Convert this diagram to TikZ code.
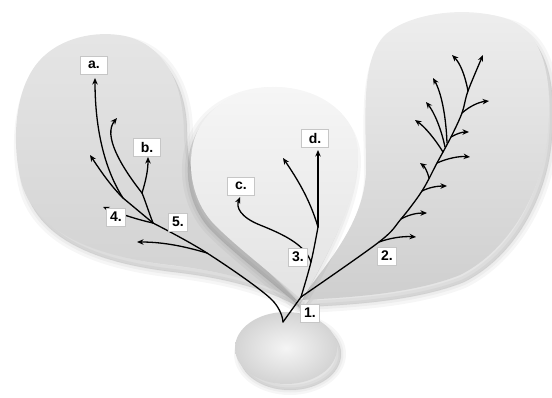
\documentclass[tikz,border=0pt]{standalone}
\usepackage{fontspec}
\setmainfont{Liberation Sans}
\usetikzlibrary{arrows.meta}
\begin{document}
\begin{tikzpicture}[x=1pt,y=-1pt,
  arr/.style={line width=1.3pt, line cap=round, -{Stealth[length=6.5pt,width=5.5pt]}},
  ln/.style={line width=1.3pt, line cap=round},
  lab/.style={fill=white, draw=gray!45, line width=0.5pt, font=\bfseries\fontsize{14}{14}\selectfont, inner sep=0pt, minimum height=18pt, minimum width=19pt},
  labw/.style={lab, minimum width=27pt},
  shad/.style={black, opacity=0.035, line join=round},
]
\useasboundingbox (0,0) rectangle (552,397);
\def\pathL{(298,302) .. controls (270,285) and (230,272) .. (170,265) .. controls (110,258) and (40,240) .. (22,185) .. controls (12,150) and (12,90) .. (40,60) .. controls (60,38) and (95,30) .. (125,36) .. controls (165,45) and (183,85) .. (183,125) .. controls (183,165) and (195,190) .. (215,215) .. controls (240,250) and (280,280) .. (298,302) -- cycle}
\def\pathM{(302,300) .. controls (280,280) and (240,250) .. (215,225) .. controls (195,205) and (188,175) .. (192,150) .. controls (198,110) and (235,88) .. (272,87) .. controls (320,86) and (358,115) .. (358,155) .. controls (358,200) and (325,260) .. (302,300) -- cycle}
\def\pathR{(300,300) .. controls (330,260) and (365,220) .. (366,170) .. controls (366,120) and (360,60) .. (385,35) .. controls (410,12) and (470,5) .. (510,20) .. controls (545,35) and (552,80) .. (548,130) .. controls (544,190) and (510,250) .. (460,275) .. controls (410,295) and (340,298) .. (300,300) -- cycle}
\def\pathE{(286,348) ellipse [x radius=51, y radius=36]}
% bottom ellipse
\foreach \w in {10,5,1} \filldraw[shad, line width=\w pt, shift={(4,6)}] \pathE;
\shade[inner color=gray!8, outer color=gray!34] \pathE;
% left blob
\foreach \w in {12,6,1} \filldraw[shad, line width=\w pt, shift={(4,7)}] \pathL;
\shade[top color=gray!20, bottom color=gray!36] \pathL;
% right blob
\foreach \w in {12,6,1} \filldraw[shad, line width=\w pt, shift={(4,7)}] \pathR;
\shade[top color=gray!13, bottom color=gray!38] \pathR;
% middle blob
\foreach \w in {12,6,1} \filldraw[shad, line width=\w pt, shift={(-3,6)}] \pathM;
\shade[top color=gray!7, bottom color=gray!22] \pathM;

% key points
\coordinate (v) at (283,322);
\coordinate (n1) at (301,297);
% left system
\coordinate (m1) at (270,298);
\coordinate (j6) at (207,253);
\coordinate (j5) at (153,223);
\coordinate (j4) at (123,198);
\coordinate (jb) at (142,193);
\coordinate (t6) at (137,242);
\coordinate (t4) at (103,207);
\coordinate (tl) at (90,155);
\coordinate (ta) at (95,78);
\coordinate (tb) at (148,157);
\coordinate (tu) at (117,118);
% middle system
\coordinate (jc) at (311,262);
\coordinate (jd) at (318,227);
\coordinate (td) at (318,150);
\coordinate (tm) at (283,158);
\coordinate (tc) at (240,197);
% right system
\coordinate (s1) at (379,242);
\coordinate (s2) at (401,219);
\coordinate (s3) at (422,191);
\coordinate (s4) at (429,178);
\coordinate (s5) at (437,163);
\coordinate (s6a) at (443,152);
\coordinate (s6b) at (445,147);
\coordinate (s6c) at (447,143);
\coordinate (s7) at (451,137);
\coordinate (s8) at (462,113);
\coordinate (s9) at (468,91);
\coordinate (st) at (483,55);

% V
\draw[ln] (n1) -- (v);
% left trunk
\draw[ln] plot[smooth, tension=0.6] coordinates {(v) (m1) (j6) (j5)};
\draw[arr] (j6) .. controls (180,245) and (160,242) .. (t6);
\draw[arr] (j5) .. controls (135,219) and (118,213) .. (t4);
\draw[ln] (j5) -- (j4);
\draw[arr] (j4) .. controls (110,185) and (100,170) .. (tl);
\draw[arr] (j4) .. controls (105,170) and (95,130) .. (ta);
\draw[ln] (j5) .. controls (148,210) and (145,200) .. (jb);
\draw[arr] (jb) .. controls (146,180) and (148,170) .. (tb);
\draw[arr] (jb) .. controls (120,165) and (103,135) .. (tu);
% middle
\draw[ln] plot[smooth, tension=0.6] coordinates {(n1) (jc) (jd)};
\draw[arr] (jd) .. controls (318,200) and (318,175) .. (td);
\draw[arr] (jd) .. controls (310,200) and (298,180) .. (tm);
\draw[arr] (jc) .. controls (305,245) and (285,235) .. (260,225) .. controls (240,217) and (236,207) .. (tc);
% right stem
\draw[arr] plot[smooth, tension=0.55] coordinates {(n1) (s1) (s2) (s3) (s5) (s7) (s8) (s9) (st)};
\draw[arr] (s1) .. controls (390,238) and (403,236) .. (416,237);
\draw[arr] (s2) .. controls (410,214) and (418,213) .. (427,213);
\draw[arr] (s3) .. controls (430,187) and (438,186) .. (447,186);
\draw[arr] (s4) .. controls (427,170) and (424,166) .. (420,163);
\draw[arr] (s5) .. controls (448,158) and (460,156) .. (470,157);
\draw[arr] (s6a) .. controls (435,139) and (425,127) .. (415,120);
\draw[arr] (s6b) .. controls (441,128) and (434,112) .. (426,102);
\draw[arr] (s6c) .. controls (446,115) and (441,92) .. (433,78);
\draw[arr] (s7) .. controls (456,134) and (462,132) .. (469,132);
\draw[arr] (s8) .. controls (470,106) and (479,102) .. (489,101);
\draw[arr] (s9) .. controls (465,75) and (460,63) .. (452,55);

% labels
\node[labw] (la) at (94,65) {a.};
\node[labw] (lb) at (147,147) {b.};
\node[labw] (lc) at (241,186) {c.};
\node[labw] (ld) at (315,138) {d.};
\node[lab] (l4) at (116,217) {4.};
\node[lab] (l5) at (178,222) {5.};
\node[lab] (l3) at (298,257) {3.};
\node[lab] (l1) at (310,313) {1.};
\node[lab] (l2) at (387,256) {2.};
\end{tikzpicture}
\end{document}
